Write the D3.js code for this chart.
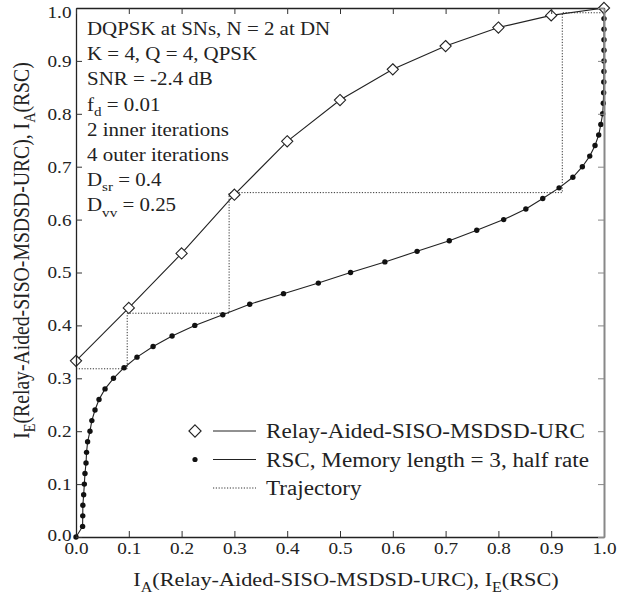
<!DOCTYPE html>
<html>
<head>
<meta charset="utf-8">
<script src="https://cdn.jsdelivr.net/npm/d3@7"></script>
<style>
  html, body { margin: 0; padding: 0; background: #fff; }
  svg { display: block; }
  svg text { font-family: "Liberation Serif", "Times New Roman", serif; fill: #222; }
</style>
</head>
<body>
<svg id="chart" width="633" height="596"></svg>
<script>
// ---------- data ----------
const relayIA = [0.0, 0.1, 0.2, 0.3, 0.4, 0.5, 0.6, 0.7, 0.8, 0.9, 1.0];
const relayIE = [0.333, 0.433, 0.536, 0.647, 0.748, 0.826, 0.884, 0.928, 0.963, 0.986, 1.0];

const rscIA = [0.00, 0.02, 0.04, 0.06, 0.08, 0.10, 0.12, 0.14, 0.16, 0.18,
               0.20, 0.22, 0.24, 0.26, 0.28, 0.30, 0.32, 0.34, 0.36, 0.38,
               0.40, 0.42, 0.44, 0.46, 0.48, 0.50, 0.52, 0.54, 0.56, 0.58,
               0.60, 0.62, 0.64, 0.66, 0.68, 0.70, 0.72, 0.74, 0.76, 0.78,
               0.80, 0.82, 0.84, 0.86, 0.88, 0.90, 0.92, 0.94, 0.96, 0.98, 1.00];
const rscIE = [0.000, 0.0125, 0.0128, 0.013, 0.0145, 0.0158, 0.017, 0.019, 0.020, 0.022,
               0.0265, 0.030, 0.036, 0.0436, 0.055, 0.071, 0.091, 0.1155, 0.146, 0.182,
               0.225, 0.278, 0.329, 0.393, 0.459, 0.520, 0.585, 0.646, 0.707, 0.759,
               0.810, 0.852, 0.884, 0.915, 0.941, 0.959, 0.973, 0.983, 0.990, 0.994,
               0.9975, 0.9987, 0.9993, 0.9996, 0.9998, 0.9999, 1.0, 1.0, 1.0, 1.0, 1.0];

const trajX = [0.0, 0.097, 0.097, 0.290, 0.290, 0.921, 0.921, 1.0];
const trajY = [0.318, 0.318, 0.423, 0.423, 0.651, 0.651, 0.991, 0.991];

const tickValues = [0.0, 0.1, 0.2, 0.3, 0.4, 0.5, 0.6, 0.7, 0.8, 0.9, 1.0];

const annotationLines = [
  [["DQPSK at SNs, N = 2 at DN", ""]],
  [["K = 4, Q = 4, QPSK", ""]],
  [["SNR = -2.4 dB", ""]],
  [["f", ""], ["d", "sub"], [" = 0.01", ""]],
  [["2 inner iterations", ""]],
  [["4 outer iterations", ""]],
  [["D", ""], ["sr", "sub"], [" = 0.4", ""]],
  [["D", ""], ["vv", "sub"], [" = 0.25", ""]]
];

const legendLabels = ["Relay-Aided-SISO-MSDSD-URC", "RSC, Memory length = 3, half rate", "Trajectory"];

const xLabelParts = [["I", ""], ["A", "sub"], ["(Relay-Aided-SISO-MSDSD-URC), I", ""], ["E", "sub"], ["(RSC)", ""]];
const yLabelParts = [["I", ""], ["E", "sub"], ["(Relay-Aided-SISO-MSDSD-URC), I", ""], ["A", "sub"], ["(RSC)", ""]];

// ---------- layout ----------
const FONT = "Liberation Serif";
const svg = d3.select("#chart");
const X0 = 76, X1 = 604, Y0 = 537, Y1 = 8;
const STRETCH = 1.13;
const x = d3.scaleLinear().domain([0, 1]).range([X0, X1]);
const y = d3.scaleLinear().domain([0, 1]).range([Y0, Y1]);

function richText(sel, parts, fs) {
  parts.forEach(([t, kind], i) => {
    const ts = sel.append("tspan").text(t);
    if (kind === "sub") {
      ts.attr("font-size", fs * 0.72).attr("dy", fs * 0.28);
    } else if (i > 0 && parts[i - 1][1] === "sub") {
      ts.attr("dy", -fs * 0.28);
    }
  });
}

// ---------- trajectory ----------
const trajData = trajX.map((v, i) => [v, trajY[i]]);
svg.append("path")
  .datum(trajData)
  .attr("fill", "none")
  .attr("stroke", "#333")
  .attr("stroke-width", 1)
  .attr("stroke-dasharray", "1.2,1.6")
  .attr("d", d3.line().x(d => x(d[0])).y(d => y(d[1])));

// ---------- RSC curve ----------
const rscData = rscIE.map((v, i) => [v, rscIA[i]]);
svg.append("path")
  .datum(rscData)
  .attr("fill", "none")
  .attr("stroke", "#222")
  .attr("stroke-width", 1.1)
  .attr("d", d3.line().x(d => x(d[0])).y(d => y(d[1])));
svg.append("g").selectAll("circle")
  .data(rscData).join("circle")
  .attr("cx", d => x(d[0])).attr("cy", d => y(d[1]))
  .attr("r", 2.7).attr("fill", "#111");

// ---------- Relay curve ----------
const relayData = relayIA.map((v, i) => [v, relayIE[i]]);
svg.append("path")
  .datum(relayData)
  .attr("fill", "none")
  .attr("stroke", "#222")
  .attr("stroke-width", 1.1)
  .attr("d", d3.line().x(d => x(d[0])).y(d => y(d[1])));
const diamond = d3.symbol().type(d3.symbolDiamond2).size(80);
svg.append("g").selectAll("path")
  .data(relayData).join("path")
  .attr("transform", d => `translate(${x(d[0])},${y(d[1])})`)
  .attr("d", diamond)
  .attr("fill", "#fff").attr("stroke", "#222").attr("stroke-width", 1.1);

// ---------- axes ----------
const fmt = d3.format(".1f");
const gB = svg.append("g").attr("transform", `translate(0,${Y0})`)
  .call(d3.axisBottom(x).tickValues(tickValues).tickFormat(fmt).tickSize(-6).tickSizeOuter(0).tickPadding(5));
const gL = svg.append("g").attr("transform", `translate(${X0},0)`)
  .call(d3.axisLeft(y).tickValues(tickValues).tickFormat(fmt).tickSize(-6).tickSizeOuter(0).tickPadding(4));
const gT = svg.append("g").attr("transform", `translate(0,${Y1})`)
  .call(d3.axisTop(x).tickValues(tickValues).tickFormat("").tickSize(-6).tickSizeOuter(0));
const gR = svg.append("g").attr("transform", `translate(${X1},0)`)
  .call(d3.axisRight(y).tickValues(tickValues).tickFormat("").tickSize(-6).tickSizeOuter(0));

[gB, gL, gT, gR].forEach(g => {
  g.attr("font-family", FONT);
  g.selectAll("line").attr("stroke", "#333").attr("stroke-width", 1);
  g.select(".domain").attr("stroke", "#222").attr("stroke-width", 1.3);
  g.selectAll("text")
    .attr("font-size", 17).attr("fill", "#222")
    .attr("transform", `scale(${STRETCH},1)`);
});
gR.select(".domain").attr("stroke", "#888").attr("stroke-width", 2);
gR.selectAll("line").attr("stroke", "#888");
gL.selectAll(".tick").filter(d => d === 1).select("text").attr("dy", "0.55em");
gL.selectAll(".tick").filter(d => d === 0).select("text").attr("dy", "0.2em");

// ---------- annotation ----------
const annFS = 18.2;
annotationLines.forEach((parts, i) => {
  const t = svg.append("text")
    .attr("transform", `translate(87,${35 + 25.2 * i}) scale(1.15,1)`)
    .attr("font-family", FONT)
    .attr("font-size", annFS);
  richText(t, parts, annFS);
});

// ---------- legend ----------
const legFS = 20.5;
const legY = [431, 459.5, 488];
const leg = svg.append("g");
leg.append("path")
  .attr("transform", `translate(195,${legY[0]})`)
  .attr("d", d3.symbol().type(d3.symbolDiamond2).size(95))
  .attr("fill", "#fff").attr("stroke", "#222").attr("stroke-width", 1.1);
leg.append("line").attr("x1", 213).attr("x2", 256).attr("y1", legY[0]).attr("y2", legY[0])
  .attr("stroke", "#222").attr("stroke-width", 1);
leg.append("circle").attr("cx", 195).attr("cy", legY[1]).attr("r", 2.6).attr("fill", "#111");
leg.append("line").attr("x1", 213).attr("x2", 256).attr("y1", legY[1]).attr("y2", legY[1])
  .attr("stroke", "#222").attr("stroke-width", 1);
leg.append("line").attr("x1", 213).attr("x2", 256).attr("y1", legY[2]).attr("y2", legY[2])
  .attr("stroke", "#333").attr("stroke-width", 1).attr("stroke-dasharray", "1.2,1.6");
legendLabels.forEach((lab, i) => {
  leg.append("text")
    .attr("transform", `translate(266,${legY[i] + 7}) scale(${STRETCH},1)`)
    .attr("font-family", FONT)
    .attr("font-size", legFS)
    .text(lab);
});

// ---------- axis titles ----------
const labFS = 19.7;
const xt = svg.append("text")
  .attr("transform", `translate(${(X0 + X1) / 2 + 6},586) scale(${STRETCH},1)`)
  .attr("text-anchor", "middle")
  .attr("font-family", FONT)
  .attr("font-size", labFS);
richText(xt, xLabelParts, labFS);

const yt = svg.append("text")
  .attr("transform", `translate(29,${(Y0 + Y1) / 2 - 22}) scale(${STRETCH},1) rotate(-90)`)
  .attr("text-anchor", "middle")
  .attr("font-family", FONT)
  .attr("font-size", labFS);
richText(yt, yLabelParts, labFS);
</script>
</body>
</html>
